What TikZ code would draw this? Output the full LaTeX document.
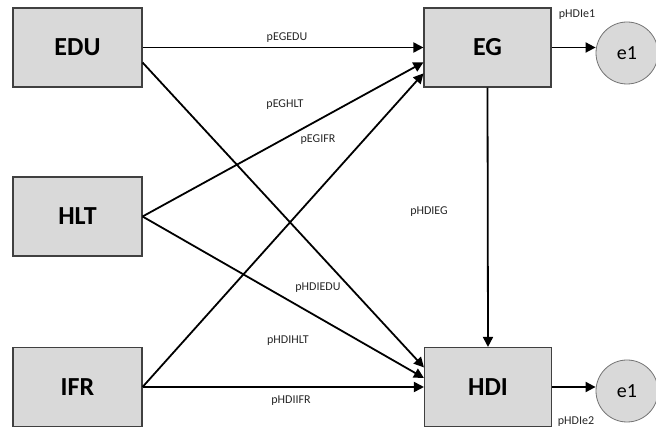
\documentclass[tikz,border=0pt]{standalone}
\usepackage{fontspec}
\setmainfont{Carlito}
\usetikzlibrary{arrows.meta}

\begin{document}
\begin{tikzpicture}[x=1pt,y=1pt,
        varbox/.style={draw=black!75,fill=black!15,line width=1.1pt,minimum width=129pt,minimum height=79pt,
          font=\fontsize{26}{30}\selectfont\bfseries},
        errcirc/.style={circle,draw=black!55,fill=black!15,line width=0.8pt,minimum size=62pt,inner sep=0pt,
          font=\fontsize{20}{24}\selectfont},
        link/.style={line width=1.8pt,-{Triangle[length=10pt,width=10pt]}},
        coef/.style={font=\fontsize{12}{14}\selectfont,text=black!85}]
        \useasboundingbox (0,0) rectangle (656,428);

        \node [varbox] (EDU) at (77.5, 380.5) {EDU};
        \node [varbox] (HLT) at (77.5, 211.5) {HLT};
        \node [varbox] (IFR) at (77.5, 41.0) {IFR};
        \node [varbox, minimum width=127pt] (EG) at (487.5, 380.5) {EG};
        \node [varbox, minimum width=127pt] (HDI) at (488.0, 41.0) {HDI};
        \node [errcirc] (e1a) at (627, 375) {e1};
        \node [errcirc] (e1b) at (627, 37) {e1};

        \draw [link] (EDU.east) -- (EG.west);
        \draw [link] (EDU.-13) -- (HDI.163);
        \draw [link] (HLT.east) -- (EG.193);
        \draw [link] (HLT.east) -- (HDI.172);
        \draw [link] (IFR.east) -- (EG.202);
        \draw [link] (IFR.east) -- (HDI.west);
        \draw [link] (EG.south) -- (HDI.north);
        \draw [link] (EG.east) -- (EG.east -| e1a.west);
        \draw [link] (HDI.east) -- (HDI.east -| e1b.west);

        \node [coef] (cEGEDU) at (287, 390) {pEGEDU};
        \node [coef] (cEGHLT) at (285, 323) {pEGHLT};
        \node [coef] (cEGIFR) at (318, 288) {pEGIFR};
        \node [coef] (cHDIEG) at (429, 216) {pHDIEG};
        \node [coef] (cHDIEDU) at (318, 140) {pHDIEDU};
        \node [coef] (cHDIHLT) at (288, 87) {pHDIHLT};
        \node [coef] (cHDIIFR) at (291, 27) {pHDIIFR};
        \node [coef] (cHDIe1) at (577, 413) {pHDIe1};
        \node [coef] (cHDIe2) at (576, 6) {pHDIe2};

      \end{tikzpicture}
\end{document}
